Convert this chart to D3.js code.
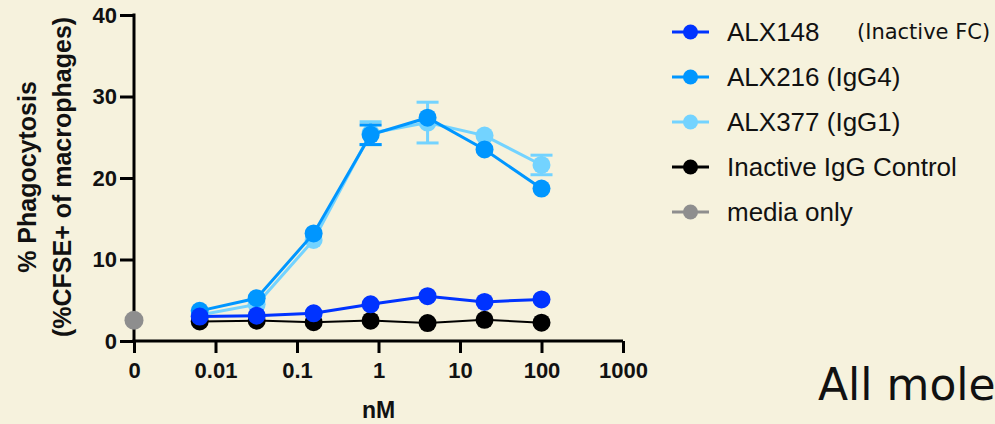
<!DOCTYPE html>
<html>
<head>
<meta charset="utf-8">
<script src="https://cdn.jsdelivr.net/npm/d3@7"></script>
<style>
  html, body { margin: 0; padding: 0; background: #f6f2dd; }
  svg { display: block; }
  .tick-label { font-family: "Liberation Sans", Arial, sans-serif; font-weight: bold; font-size: 22px; fill: #111; }
  .title { font-family: "Liberation Sans", Arial, sans-serif; font-weight: bold; fill: #111; }
  .legend { font-family: "Liberation Sans", Arial, sans-serif; font-size: 26px; fill: #111; }
</style>
</head>
<body>
<script>

// concentrations (nM), 5-fold dilutions
var conc = [0.0064, 0.032, 0.16, 0.8, 4, 20, 100];

var alx148 = [3.0, 3.1, 3.4, 4.5, 5.5, 4.8, 5.1],
    alx148Err = [0.3, 0.3, 0.3, 0.4, 0.4, 0.4, 0.4];
var alx216 = [3.7, 5.25, 13.2, 25.3, 27.4, 23.5, 18.7],
    alx216Err = [0.4, 0.5, 0.6, 1.2, 0.8, 0.5, 0.6];
var alx377 = [3.2, 4.5, 12.4, 25.5, 26.8, 25.2, 21.6],
    alx377Err = [0.4, 0.5, 0.6, 1.4, 2.5, 0.6, 1.2];
var control = [2.4, 2.5, 2.3, 2.5, 2.2, 2.6, 2.25];
var mediaOnly = 2.55; // plotted at "0"

var xTicks = [0.001, 0.01, 0.1, 1, 10, 100, 1000],
    xTickLabels = ['0', '0.01', '0.1', '1', '10', '100', '1000'];
var yTicks = [0, 10, 20, 30, 40];

var legendNames = ['ALX148', 'ALX216 (IgG4)', 'ALX377 (IgG1)', 'Inactive IgG Control', 'media only'];
var colors = ['#0033ff', '#0096ff', '#73d3ff', '#000000', '#8e8e8e'];

var w = 995, h = 424,
    r = 9; // symbol radius

var svg = d3.select('body').append('svg')
    .attr('width', w)
    .attr('height', h);

svg.append('rect').attr('width', w).attr('height', h).attr('fill', '#f6f2dd');

var x = d3.scaleLog().domain([0.001, 1000]).range([134, 623]);
var y = d3.scaleLinear().domain([0, 40]).range([341, 15]);

// axes
var yAxis = svg.append('g').attr('transform', 'translate(134,0)')
    .call(d3.axisLeft(y).tickValues(yTicks).tickSize(14).tickPadding(3).tickSizeOuter(0));
var xAxis = svg.append('g').attr('transform', 'translate(0,341)')
    .call(d3.axisBottom(x).tickValues(xTicks).tickSize(12).tickPadding(9).tickSizeOuter(0)
        .tickFormat(function(d, i){ return xTickLabels[i]; }));

[xAxis, yAxis].forEach(function(a){
    a.select('.domain').attr('stroke', '#000').attr('stroke-width', 3);
    a.selectAll('.tick line').attr('stroke', '#000').attr('stroke-width', 3);
    a.selectAll('.tick text').attr('class', 'tick-label').attr('font-size', null).attr('font-family', null);
});
// extend x axis line to the y axis
xAxis.select('.domain').attr('d', 'M' + (x(0.001) - 1.5) + ',0H' + x(1000));
yAxis.select('.domain').attr('d', 'M0,' + y(0) + 'V' + (y(40) - 1.5));

// axis titles
svg.append('text').attr('class', 'title')
    .attr('transform', 'translate(27,177) rotate(-90)')
    .attr('text-anchor', 'middle').attr('dominant-baseline', 'central')
    .attr('font-size', 25)
    .text('% Phagocytosis');
svg.append('text').attr('class', 'title')
    .attr('transform', 'translate(62,177) rotate(-90)')
    .attr('text-anchor', 'middle').attr('dominant-baseline', 'central')
    .attr('font-size', 25)
    .text('(%CFSE+ of macrophages)');
svg.append('text').attr('class', 'title')
    .attr('x', x(1)).attr('y', 418)
    .attr('text-anchor', 'middle')
    .attr('font-size', 23)
    .text('nM');

// series, drawn back to front
var series = [
    {vals: alx377, err: alx377Err, color: colors[2], lw: 3},
    {vals: alx216, err: alx216Err, color: colors[1], lw: 3},
    {vals: control, err: null, color: colors[3], lw: 2},
    {vals: alx148, err: alx148Err, color: colors[0], lw: 3}
];

var line = d3.line()
    .x(function(d){ return x(d.c); })
    .y(function(d){ return y(d.v); });

series.forEach(function(s){
    var pts = conc.map(function(c, i){ return {c: c, v: s.vals[i], e: s.err ? s.err[i] : 0}; });
    var g = svg.append('g');

    // error bars (hidden when shorter than the symbol, as in prism)
    var eb = g.selectAll('g.err')
        .data(pts.filter(function(d){ return y(d.v - d.e) - y(d.v) > r; }))
        .enter().append('g');
    eb.append('line')
        .attr('x1', function(d){ return x(d.c); }).attr('x2', function(d){ return x(d.c); })
        .attr('y1', function(d){ return y(d.v - d.e); }).attr('y2', function(d){ return y(d.v + d.e); })
        .attr('stroke', s.color).attr('stroke-width', 3);
    [-1, 1].forEach(function(sign){
        eb.append('line')
            .attr('x1', function(d){ return x(d.c) - 11; }).attr('x2', function(d){ return x(d.c) + 11; })
            .attr('y1', function(d){ return y(d.v + sign * d.e); }).attr('y2', function(d){ return y(d.v + sign * d.e); })
            .attr('stroke', s.color).attr('stroke-width', 3);
    });

    g.append('path').datum(pts)
        .attr('d', line)
        .attr('fill', 'none')
        .attr('stroke', s.color)
        .attr('stroke-width', s.lw);

    g.selectAll('circle').data(pts).enter().append('circle')
        .attr('cx', function(d){ return x(d.c); })
        .attr('cy', function(d){ return y(d.v); })
        .attr('r', r)
        .attr('fill', s.color);
});

// media only at "0"
svg.append('circle')
    .attr('cx', x(0.001)).attr('cy', y(mediaOnly))
    .attr('r', 9.5).attr('fill', colors[4]);

// legend
var legend = svg.append('g');
var rows = legend.selectAll('g').data(legendNames).enter().append('g')
    .attr('transform', function(d, i){ return 'translate(0,' + (32 + i * 45) + ')'; });
rows.append('line')
    .attr('x1', 672).attr('x2', 709).attr('y1', 0).attr('y2', 0)
    .attr('stroke', function(d, i){ return colors[i]; }).attr('stroke-width', 3);
rows.append('circle')
    .attr('cx', 690.5).attr('cy', 0).attr('r', 7.5)
    .attr('fill', function(d, i){ return colors[i]; });
rows.append('text').attr('class', 'legend')
    .attr('x', 727).attr('y', 9)
    .text(function(d){ return d; });

legend.append('text')
    .attr('x', 857).attr('y', 39)
    .attr('font-family', '"DejaVu Sans", sans-serif')
    .attr('font-size', 21)
    .attr('fill', '#111')
    .text('(Inactive FC)');

// caption running off the right edge, as in the slide
svg.append('text')
    .attr('x', 818).attr('y', 400)
    .attr('font-family', '"DejaVu Sans", sans-serif')
    .attr('font-size', 44)
    .attr('fill', '#111')
    .text('All mole');

</script>
</body>
</html>
